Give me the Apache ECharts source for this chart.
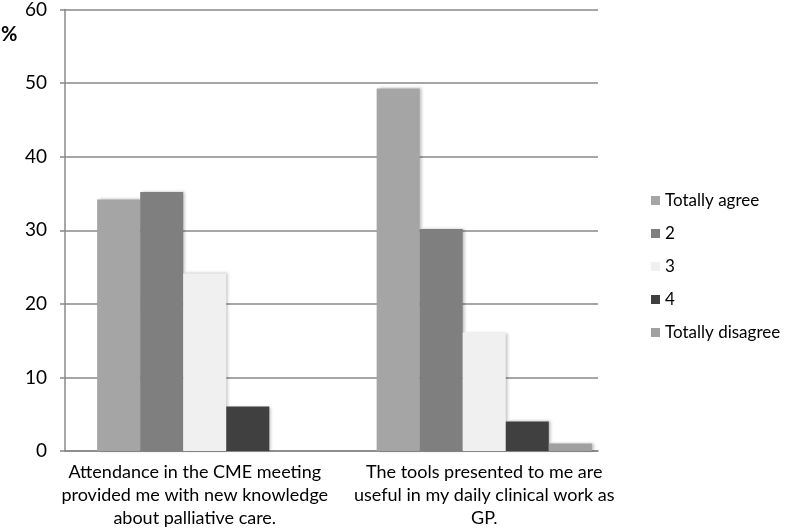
<!DOCTYPE html>
<html>
<head>
<meta charset="utf-8">
<script src="https://cdn.jsdelivr.net/npm/echarts@6/dist/echarts.min.js"></script>
<style>
  html, body { margin: 0; padding: 0; background: #fff; }
  #main { width: 787px; height: 530px; }
</style>
</head>
<body>
<div id="main"></div>
<script>
// questionnaire statements (x categories)
const categories = [
  'Attendance in the CME meeting\nprovided me with new knowledge\nabout palliative care.',
  'The tools presented to me are\nuseful in my daily clinical work as\nGP.'
];

// answer scale, percentages per statement
const seriesNames = ['Totally agree', '2', '3', '4', 'Totally disagree'];
const totallyAgree = [34, 49];
const answer2 = [35, 30];
const answer3 = [24, 16];
const answer4 = [6, 4];
const totallyDisagree = [0, 1];

const yTicks = [0, 10, 20, 30, 40, 50, 60];

const colors = ['#a5a5a5', '#7f7f7f', '#f0f0f0', '#404040', '#a0a0a0'];
const seriesData = [totallyAgree, answer2, answer3, answer4, totallyDisagree];

const font = 'Lato, "Open Sans", sans-serif';

var myChart = echarts.init(document.getElementById('main'));

myChart.setOption({
  animation: false,
  color: colors,
  textStyle: { fontFamily: font },
  grid: [
    // axes and gridlines
    { left: 65, right: 189, top: 7, bottom: 79 },
    // bars (slightly wider, as in the source)
    { left: 65, right: 163, top: 7, bottom: 79 }
  ],
  graphic: [
    {
      type: 'text',
      left: 1,
      top: 25,
      style: { text: '%', font: 'bold 20px ' + font, fill: '#000' }
    }
  ],
  legend: {
    orient: 'vertical',
    left: 646,
    top: 187,
    itemWidth: 9,
    itemHeight: 9,
    itemGap: 16,
    icon: 'rect',
    data: seriesNames,
    textStyle: { fontSize: 17, color: '#000', fontFamily: font }
  },
  xAxis: [
    {
      type: 'category',
      gridIndex: 0,
      data: categories,
      axisLine: { lineStyle: { color: '#888', width: 1.5 } },
      axisTick: { show: false },
      axisLabel: { show: false }
    },
    {
      type: 'category',
      gridIndex: 1,
      data: [
        { value: categories[0], textStyle: { padding: [0, 20, 0, 0] } },
        categories[1]
      ],
      axisLine: { show: false },
      axisTick: { show: false },
      axisLabel: {
        interval: 0,
        margin: 10,
        fontSize: 18,
        lineHeight: 23,
        color: '#000',
        fontFamily: font
      }
    }
  ],
  yAxis: [
    {
      type: 'value',
      gridIndex: 0,
      min: yTicks[0],
      max: yTicks[yTicks.length - 1],
      interval: 10,
      axisLine: { show: true, lineStyle: { color: '#888', width: 1.5 } },
      axisTick: { show: true, length: 5, lineStyle: { color: '#888', width: 1.5 } },
      axisLabel: { fontSize: 19, color: '#000', margin: 18, fontFamily: font },
      splitLine: { lineStyle: { color: '#888', width: 1.5 } }
    },
    {
      type: 'value',
      gridIndex: 1,
      min: yTicks[0],
      max: yTicks[yTicks.length - 1],
      interval: 10,
      show: false
    }
  ],
  series: seriesNames.map((name, i) => ({
    name: name,
    type: 'bar',
    xAxisIndex: 1,
    yAxisIndex: 1,
    data: seriesData[i],
    barGap: '0%',
    barCategoryGap: '23%',
    itemStyle: {
      color: colors[i],
      shadowColor: 'rgba(0,0,0,0.25)',
      shadowBlur: 3,
      shadowOffsetX: 2,
      shadowOffsetY: 0
    }
  }))
});
</script>
</body>
</html>
